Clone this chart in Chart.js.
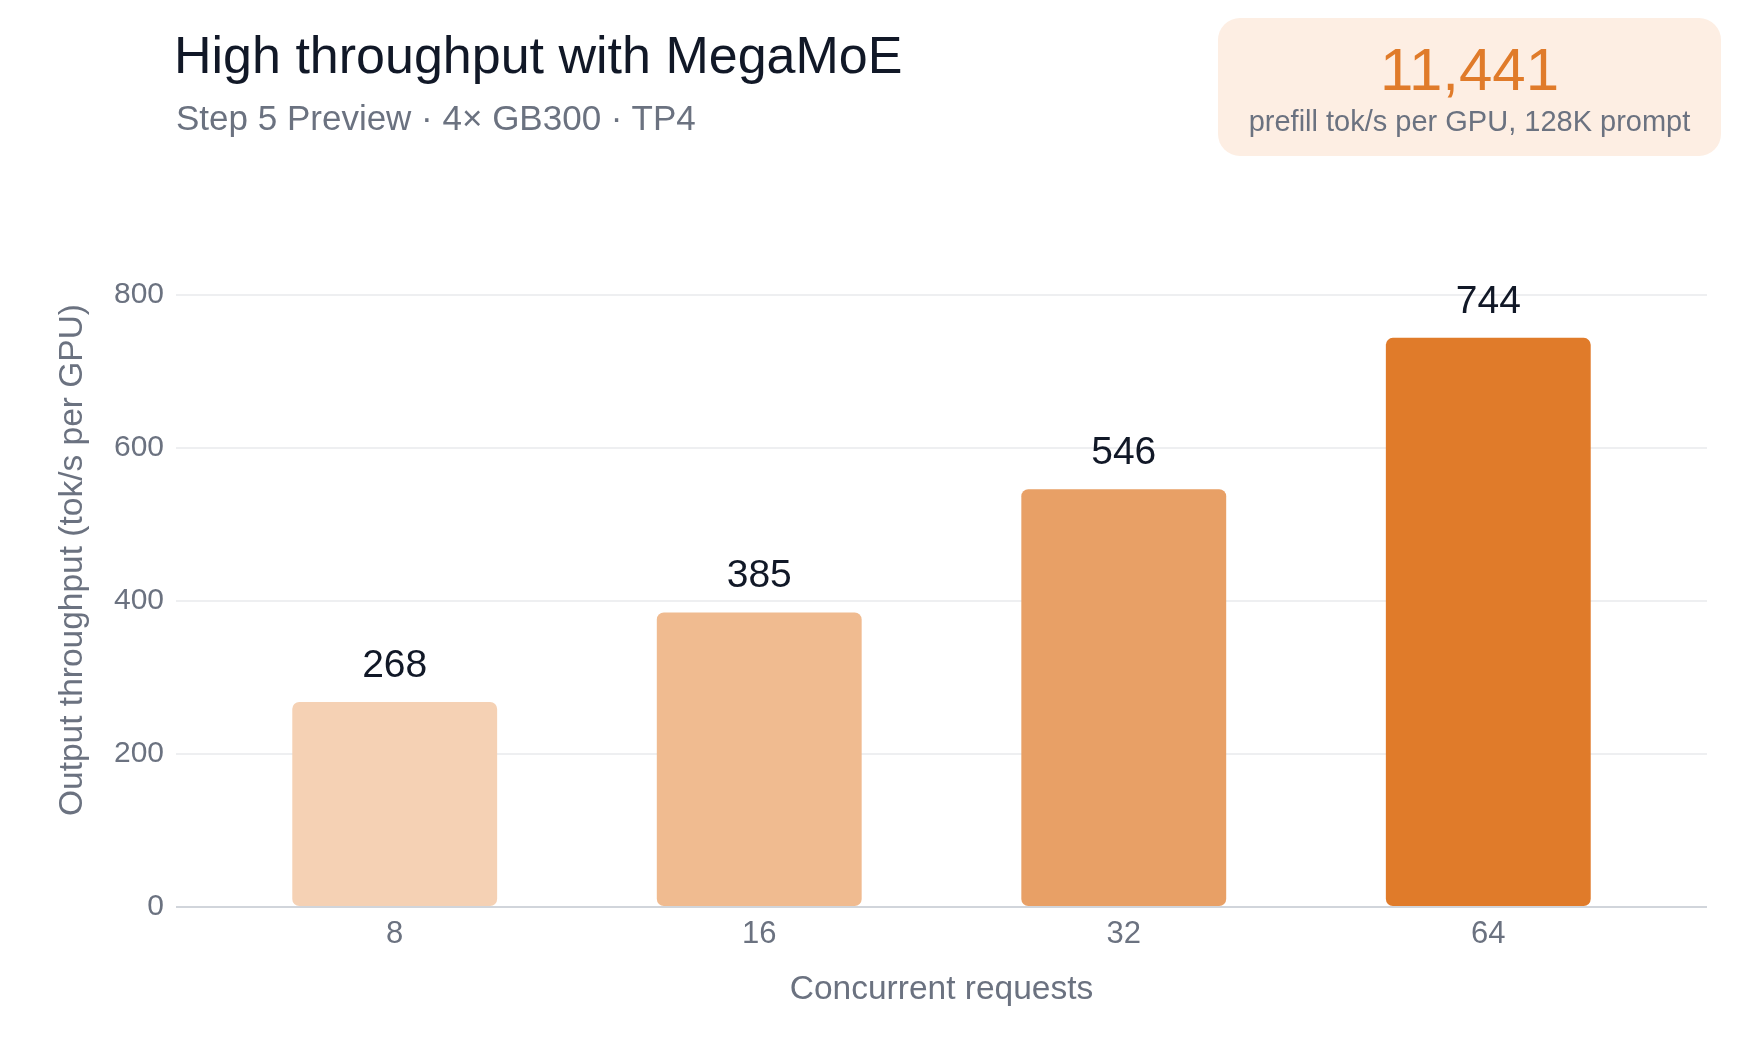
<!DOCTYPE html>
<html>
<head>
<meta charset="utf-8">
<script src="https://cdn.jsdelivr.net/npm/chart.js@4.4.1/dist/chart.umd.min.js"></script>
<style>
    body { margin: 0; background: #ffffff; font-family: 'Liberation Sans', Arial, sans-serif; }
    #wrap { position: relative; width: 1760px; height: 1056px; }
    #chart { position: absolute; left: 0; top: 0; }
    .title { position: absolute; left: 174px; top: 29px; font-size: 52px; line-height: 1; color: #111827; white-space: nowrap; }
    .subtitle { position: absolute; left: 176px; top: 100px; font-size: 35px; line-height: 1; color: #6b7280; white-space: nowrap; }
    .callout { position: absolute; left: 1218px; top: 18px; width: 503px; height: 138px; border-radius: 22px; background: #fdeee3; }
    .callout-value { position: absolute; left: 0; right: 0; top: 22px; text-align: center; font-size: 60px; line-height: 1; color: #e07b2a; }
    .callout-label { position: absolute; left: 0; right: 0; top: 89px; text-align: center; font-size: 29px; line-height: 1; color: #6b7280; white-space: nowrap; }
</style>
</head>
<body>
<div id="wrap">
    <canvas id="chart" width="1760" height="1056"></canvas>
    <div class="title">High throughput with MegaMoE</div>
    <div class="subtitle">Step 5 Preview · 4× GB300 · TP4</div>
    <div class="callout">
        <div class="callout-value">11,441</div>
        <div class="callout-label">prefill tok/s per GPU, 128K prompt</div>
    </div>
</div>
<script>
// Dados do gráfico
const categories = ['8', '16', '32', '64'];
const throughput = [268, 385, 546, 744];
const barColors = ['#f5d1b4', '#f0bb90', '#e8a066', '#e07b2a'];
const yTicks = [0, 200, 400, 600, 800];

const FONT = "'Liberation Sans', Arial, sans-serif";
const GRAY = '#6b7280';

// Rótulos de valor acima das barras + título do eixo Y
const valueLabels = {
    id: 'valueLabels',
    afterDatasetsDraw(chart) {
        const ctx = chart.ctx;
        const meta = chart.getDatasetMeta(0);
        ctx.save();
        ctx.font = '39px ' + FONT;
        ctx.fillStyle = '#111827';
        ctx.textAlign = 'center';
        ctx.textBaseline = 'alphabetic';
        meta.data.forEach((bar, i) => {
            ctx.fillText(String(throughput[i]), bar.x, bar.y - 25);
        });
        ctx.restore();

        const area = chart.chartArea;
        ctx.save();
        ctx.translate(82, (area.top + area.bottom) / 2 - 41);
        ctx.rotate(-Math.PI / 2);
        ctx.font = '33.5px ' + FONT;
        ctx.fillStyle = GRAY;
        ctx.textAlign = 'center';
        ctx.fillText('Output throughput (tok/s per GPU)', 0, 0);
        ctx.restore();
    }
};

const ctx = document.getElementById('chart').getContext('2d');
const chart = new Chart(ctx, {
    type: 'bar',
    data: {
        datasets: [{
            data: throughput.map((v, i) => ({ x: i, y: v })),
            backgroundColor: barColors,
            borderRadius: 7,
            borderSkipped: false,
            barPercentage: 0.562,
            categoryPercentage: 1
        }]
    },
    options: {
        responsive: false,
        animation: false,
        layout: {
            padding: { top: 295, right: 53, bottom: 0, left: 0 }
        },
        plugins: {
            legend: { display: false },
            tooltip: { enabled: false }
        },
        scales: {
            x: {
                type: 'linear',
                offset: false,
                min: -0.6,
                max: 3.6,
                afterBuildTicks(scale) {
                    scale.ticks = categories.map((_, i) => ({ value: i }));
                },
                afterFit(scale) {
                    scale.height = 149;
                },
                grid: { display: false, drawTicks: false },
                border: { display: false },
                ticks: {
                    padding: 9,
                    color: GRAY,
                    font: { family: FONT, size: 31 },
                    callback: (value) => categories[value]
                },
                title: {
                    display: true,
                    text: 'Concurrent requests',
                    color: GRAY,
                    font: { family: FONT, size: 33.5 },
                    padding: { top: 0, bottom: 46 }
                }
            },
            y: {
                min: 0,
                max: 800,
                afterBuildTicks(scale) {
                    scale.ticks = yTicks.map(v => ({ value: v }));
                },
                afterFit(scale) {
                    scale.width = 176;
                },
                grid: {
                    drawTicks: false,
                    lineWidth: 2,
                    color: (c) => c.tick && c.tick.value === 0 ? '#d1d5db' : '#eeeff1'
                },
                border: { display: false },
                ticks: {
                    padding: 12,
                    color: GRAY,
                    font: { family: FONT, size: 30 }
                }
            }
        }
    },
    plugins: [valueLabels]
});
</script>
</body>
</html>
